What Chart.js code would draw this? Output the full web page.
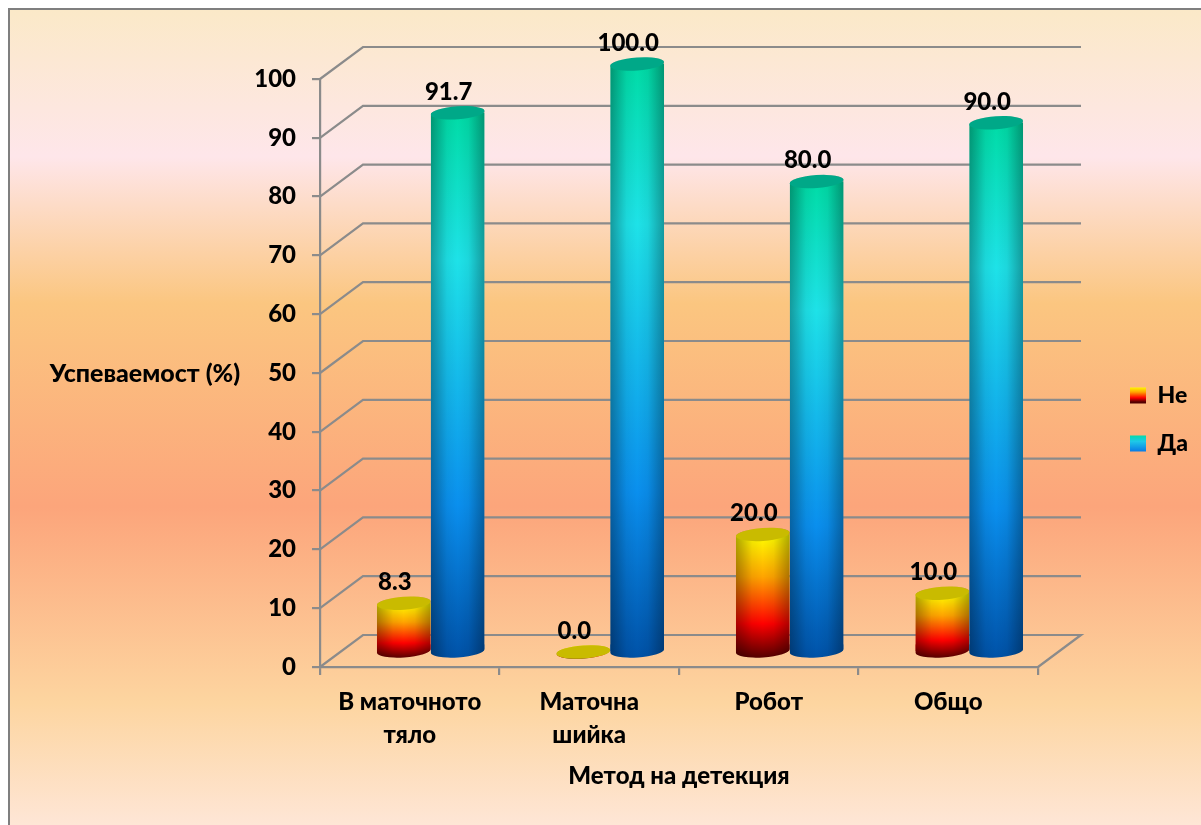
<!DOCTYPE html>
<html>
<head>
<meta charset="utf-8">
<style>
  html, body { margin: 0; padding: 0; background: #fff; }
  #plate {
    position: absolute; left: 8px; top: 8px; width: 1193px; height: 817px;
    box-sizing: border-box; border-left: 2px solid #7f7f7f; border-top: 2px solid #7f7f7f;
    background: linear-gradient(to bottom, #fbe9c8 0%, #fee6ea 18%, #fbc680 36%, #fca57b 61%, #fdd5a0 85%, #fee6d6 100%);
  }
  canvas { position: absolute; left: 0; top: 0; }
</style>
</head>
<body>
<div id="plate"></div>
<canvas id="myChart" width="1201" height="825"></canvas>
<script src="https://cdn.jsdelivr.net/npm/chart.js@4/dist/chart.umd.js"></script>
<script>
// DATA
const categories = [["В маточното", "тяло"], ["Маточна", "шийка"], "Робот", "Общо"];
const seriesNames = ["Не", "Да"];
const noValues = [8.3, 0.0, 20.0, 10.0];
const yesValues = [91.7, 100.0, 80.0, 90.0];

const xTitle = "Метод на детекция";
const yTitle = "Успеваемост (%)";

// STYLE
const fontFamily = "Lato, 'Noto Sans', sans-serif";
const fontWeight = "900";
const gridColor = "#8b8b8b";
const noStops = [[0, "#ffff00"], [0.34, "#ffa500"], [0.72, "#ff0000"], [1, "#520000"]];
const yesStops = [[0, "#00dca6"], [0.27, "#1ee2e8"], [0.72, "#0a8fee"], [1, "#0052a8"]];
const yesSwatchStops = [[0, "#00dca6"], [0.4, "#1ec8e8"], [1, "#0a7fe6"]];
const capColors = ["#c9bb00", "#00a888"];

// box depth of the 3D floor and where the cylinders stand inside it
const wallDx = 43, wallDy = -32;
const barDx = 21, barDy = -15;
const capRy = 6.5, capTilt = -0.07;

function verticalGradient(ctx, y0, y1, stops) {
    const g = ctx.createLinearGradient(0, y0, 0, y1);
    stops.forEach(s => g.addColorStop(s[0], s[1]));
    return g;
}

function barFill(stops) {
    return function (c) {
        const y = c.chart.scales.y;
        if (!y || !c.parsed) return stops[0][1];
        return verticalGradient(c.chart.ctx, y.getPixelForValue(c.parsed.y), y.getPixelForValue(0) + capRy, stops);
    };
}

function cylinderPath(ctx, cx, rx, top, base) {
    const lift = Math.sin(capTilt) * rx;
    ctx.beginPath();
    ctx.moveTo(cx - rx, top - lift);
    ctx.lineTo(cx - rx, base - lift);
    ctx.ellipse(cx, base, rx, capRy, capTilt, Math.PI, 0, true);
    ctx.lineTo(cx + rx, top + lift);
    ctx.ellipse(cx, top, rx, capRy, capTilt, 0, Math.PI, true);
    ctx.closePath();
}

function drawWalls(chart) {
    const ctx = chart.ctx, y = chart.scales.y, area = chart.chartArea;
    ctx.save();
    ctx.strokeStyle = gridColor;
    ctx.lineWidth = 2.2;
    y.ticks.forEach(t => {
        const py = y.getPixelForValue(t.value);
        ctx.beginPath();
        ctx.moveTo(area.left, py);
        ctx.lineTo(area.left + wallDx, py + wallDy);
        ctx.lineTo(area.right + wallDx, py + wallDy);
        if (t.value === 0) ctx.lineTo(area.right, py);
        ctx.stroke();
    });
    ctx.restore();
}

function drawCylinders(chart) {
    const ctx = chart.ctx;
    seriesNames.forEach((name, i) => {
        chart.getDatasetMeta(i).data.forEach(bar => {
            const rx = bar.width / 2;
            ctx.save();
            ctx.translate(barDx, barDy);
            ctx.save();
            cylinderPath(ctx, bar.x, rx, bar.y, bar.base);
            ctx.clip();
            bar.draw(ctx);
            // rounded foot under the flat bar rectangle
            ctx.fillStyle = bar.options.backgroundColor;
            ctx.fillRect(bar.x - rx, bar.base - capRy, rx * 2, capRy * 2 + 2);
            // side shading of the round body
            const side = ctx.createLinearGradient(bar.x - rx, 0, bar.x + rx, 0);
            side.addColorStop(0, "rgba(0,0,0,0.32)");
            side.addColorStop(0.3, "rgba(0,0,0,0.05)");
            side.addColorStop(0.5, "rgba(0,0,0,0)");
            side.addColorStop(0.7, "rgba(0,0,0,0.05)");
            side.addColorStop(1, "rgba(0,0,0,0.32)");
            ctx.fillStyle = side;
            ctx.fillRect(bar.x - rx, bar.y - capRy * 2, rx * 2, bar.base - bar.y + capRy * 4);
            ctx.restore();
            ctx.fillStyle = capColors[i];
            ctx.beginPath();
            ctx.ellipse(bar.x, bar.y, rx, capRy, capTilt, 0, Math.PI * 2);
            ctx.fill();
            ctx.restore();
        });
    });
}

function drawValueLabels(chart) {
    const ctx = chart.ctx;
    ctx.save();
    ctx.font = fontWeight + " 24px " + fontFamily;
    ctx.fillStyle = "#000";
    ctx.textAlign = "center";
    ctx.textBaseline = "middle";
    chart.data.datasets.forEach((ds, i) => {
        chart.getDatasetMeta(i).data.forEach((bar, j) => {
            ctx.fillText(ds.data[j].toFixed(1), bar.x + barDx - 9, bar.y + barDy - 21);
        });
    });
    ctx.restore();
}

const cylinderPlugin = {
    id: "cylinders",
    beforeLayout(chart) {
        // fixed legend column so the plot keeps its width
        const fit = chart.legend.fit;
        chart.legend.fit = function () {
            fit.call(this);
            this.width = 163;
        };
    },
    afterLayout(chart) {
        chart.legend.left = 1105;
        chart.legend.right = 1201;
        chart.legend.top = 359;
        chart.legend.bottom = 825;
    },
    beforeDatasetsDraw(chart) {
        drawWalls(chart);
        drawCylinders(chart);
        drawValueLabels(chart);
        return false;
    },
    afterDraw(chart) {
        const ctx = chart.ctx;
        ctx.save();
        ctx.font = fontWeight + " 25px " + fontFamily;
        ctx.fillStyle = "#000";
        ctx.textAlign = "center";
        ctx.textBaseline = "middle";
        ctx.fillText(yTitle, 145, 374);
        ctx.restore();
    },
};

// CONFIG
const canvas = document.getElementById("myChart");
const swatchContext = canvas.getContext("2d");

const data = {
    labels: categories,
    datasets: [
        { label: seriesNames[0], data: noValues, backgroundColor: barFill(noStops), borderWidth: 0 },
        { label: seriesNames[1], data: yesValues, backgroundColor: barFill(yesStops), borderWidth: 0 },
    ],
};

const config = {
    type: "bar",
    data: data,
    plugins: [cylinderPlugin],
    options: {
        responsive: false,
        animation: false,
        categoryPercentage: 0.6,
        barPercentage: 1,
        layout: { padding: { top: 79, left: 0, right: 0, bottom: 0 } },
        scales: {
            x: {
                afterFit(s) { s.height = 158; },
                grid: { drawOnChartArea: false, color: gridColor, lineWidth: 2.2, tickLength: 8 },
                border: { color: gridColor, width: 2.2 },
                ticks: {
                    color: "#000", padding: 11, maxRotation: 0,
                    font: { family: fontFamily, size: 24, weight: fontWeight, lineHeight: 1.375 },
                },
                title: {
                    display: true, text: xTitle, color: "#000",
                    padding: { top: 0, bottom: 34 },
                    font: { family: fontFamily, size: 24, weight: fontWeight },
                },
            },
            y: {
                min: 0,
                max: 100,
                afterFit(s) { s.width = 320; },
                grid: { drawOnChartArea: false, color: gridColor, lineWidth: 2.2, tickLength: 8 },
                border: { color: gridColor, width: 2.2 },
                ticks: {
                    stepSize: 10, color: "#000", padding: 16,
                    font: { family: fontFamily, size: 24, weight: fontWeight },
                },
            },
        },
        plugins: {
            tooltip: { enabled: false },
            legend: {
                position: "right",
                align: "start",
                labels: {
                    boxWidth: 16,
                    boxHeight: 16,
                    padding: 25,
                    color: "#000",
                    font: { family: fontFamily, size: 23, weight: fontWeight },
                    generateLabels() {
                        return seriesNames.map((name, i) => ({
                            text: name,
                            datasetIndex: i,
                            lineWidth: 0,
                            strokeStyle: "transparent",
                            fillStyle: i === 0
                                ? verticalGradient(swatchContext, 387, 402, noStops)
                                : verticalGradient(swatchContext, 435, 451, yesSwatchStops),
                        }));
                    },
                },
            },
        },
    },
};

const myChart = new Chart(canvas, config);
</script>
</body>
</html>
